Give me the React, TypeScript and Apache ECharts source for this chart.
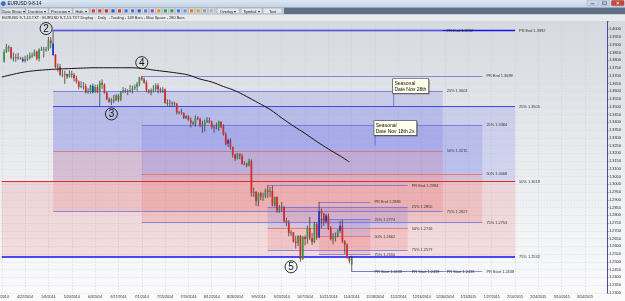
import React, { useEffect, useRef } from 'react';
import * as echarts from 'echarts';

const FONT = "'Liberation Sans', Arial, sans-serif";

// ---------- x axis: trading-day slots starting 8 Apr 2014 ----------
const firstSlotDate = '2014-04-08';
const slotCount = 260;
function buildCategories(): string[] {
  const out: string[] = [];
  const d = new Date(firstSlotDate + 'T00:00:00Z');
  while (out.length < slotCount) {
    const wd = d.getUTCDay();
    if (wd !== 0 && wd !== 6) out.push(`${d.getUTCMonth() + 1}/${d.getUTCDate()}/${d.getUTCFullYear()}`);
    d.setUTCDate(d.getUTCDate() + 1);
  }
  return out;
}
const categories = buildCategories();

// ---------- y axis ----------
const yMin = 1.23;
const yMax = 1.405;
const yStep = 0.005;

// ---------- daily bars [open, high, low, close], first bar at slot 1 ----------
const firstBarSlot = 1;
const ohlc: number[][] = [
  [1.3792, 1.3870, 1.3785, 1.3854], [1.3854, 1.3906, 1.3848, 1.3887], [1.3887, 1.3897, 1.3855, 1.3885],
  [1.3885, 1.3887, 1.3805, 1.3816], [1.3816, 1.3850, 1.3792, 1.3813], [1.3813, 1.3842, 1.3790, 1.3820],
  [1.3820, 1.3847, 1.3803, 1.3813], [1.3813, 1.3822, 1.3805, 1.3810], [1.3810, 1.3823, 1.3787, 1.3795],
  [1.3795, 1.3830, 1.3785, 1.3806], [1.3806, 1.3836, 1.3796, 1.3815], [1.3815, 1.3850, 1.3805, 1.3831],
  [1.3831, 1.3849, 1.3815, 1.3828], [1.3828, 1.3870, 1.3826, 1.3856], [1.3856, 1.3862, 1.3800, 1.3810],
  [1.3810, 1.3878, 1.3793, 1.3868], [1.3868, 1.3888, 1.3860, 1.3869], [1.3869, 1.3887, 1.3818, 1.3872],
  [1.3872, 1.3886, 1.3855, 1.3873], [1.3873, 1.3951, 1.3862, 1.3928], [1.3928, 1.3949, 1.3878, 1.3909],
  [1.3909, 1.3992, 1.3828, 1.3835], [1.3835, 1.3840, 1.3749, 1.3755], [1.3755, 1.3779, 1.3727, 1.3758],
  [1.3758, 1.3775, 1.3700, 1.3705], [1.3705, 1.3737, 1.3691, 1.3707], [1.3707, 1.3733, 1.3648, 1.3711],
  [1.3711, 1.3714, 1.3679, 1.3694], [1.3694, 1.3735, 1.3688, 1.3713], [1.3713, 1.3732, 1.3685, 1.3705],
  [1.3705, 1.3718, 1.3663, 1.3684], [1.3684, 1.3701, 1.3650, 1.3662], [1.3662, 1.3670, 1.3613, 1.3630],
  [1.3630, 1.3665, 1.3620, 1.3635], [1.3635, 1.3660, 1.3609, 1.3633], [1.3633, 1.3650, 1.3586, 1.3593],
  [1.3593, 1.3620, 1.3585, 1.3596], [1.3596, 1.3644, 1.3584, 1.3636], [1.3636, 1.3650, 1.3586, 1.3594],
  [1.3594, 1.3643, 1.3590, 1.3627], [1.3627, 1.3643, 1.3588, 1.3597], [1.3597, 1.3669, 1.3503, 1.3655],
  [1.3655, 1.3677, 1.3616, 1.3642], [1.3642, 1.3651, 1.3585, 1.3590], [1.3590, 1.3598, 1.3543, 1.3549],
  [1.3549, 1.3561, 1.3526, 1.3533], [1.3533, 1.3556, 1.3511, 1.3545], [1.3545, 1.3576, 1.3523, 1.3541],
  [1.3541, 1.3582, 1.3538, 1.3571], [1.3571, 1.3581, 1.3531, 1.3547], [1.3547, 1.3601, 1.3536, 1.3598],
  [1.3598, 1.3627, 1.3588, 1.3607], [1.3607, 1.3620, 1.3589, 1.3600], [1.3600, 1.3614, 1.3575, 1.3604],
  [1.3604, 1.3641, 1.3593, 1.3608], [1.3608, 1.3637, 1.3586, 1.3618], [1.3618, 1.3644, 1.3608, 1.3630],
  [1.3630, 1.3660, 1.3603, 1.3647], [1.3647, 1.3693, 1.3632, 1.3690], [1.3690, 1.3699, 1.3668, 1.3677],
  [1.3677, 1.3690, 1.3648, 1.3656], [1.3656, 1.3670, 1.3594, 1.3606], [1.3606, 1.3614, 1.3585, 1.3593],
  [1.3593, 1.3619, 1.3574, 1.3606], [1.3606, 1.3640, 1.3593, 1.3615], [1.3615, 1.3651, 1.3600, 1.3637],
  [1.3637, 1.3651, 1.3586, 1.3612], [1.3612, 1.3625, 1.3590, 1.3604], [1.3604, 1.3626, 1.3590, 1.3612],
  [1.3612, 1.3618, 1.3519, 1.3525], [1.3525, 1.3548, 1.3505, 1.3522], [1.3522, 1.3546, 1.3500, 1.3526],
  [1.3526, 1.3535, 1.3501, 1.3523], [1.3523, 1.3534, 1.3505, 1.3521], [1.3521, 1.3524, 1.3451, 1.3463],
  [1.3463, 1.3474, 1.3450, 1.3465], [1.3465, 1.3488, 1.3449, 1.3460], [1.3460, 1.3465, 1.3421, 1.3428],
  [1.3428, 1.3447, 1.3421, 1.3440], [1.3440, 1.3445, 1.3412, 1.3413], [1.3413, 1.3430, 1.3367, 1.3397],
  [1.3397, 1.3408, 1.3382, 1.3390], [1.3390, 1.3444, 1.3372, 1.3428], [1.3428, 1.3440, 1.3414, 1.3420],
  [1.3420, 1.3430, 1.3368, 1.3380], [1.3380, 1.3410, 1.3333, 1.3379], [1.3379, 1.3418, 1.3340, 1.3400],
  [1.3400, 1.3433, 1.3396, 1.3414], [1.3414, 1.3431, 1.3392, 1.3400], [1.3400, 1.3410, 1.3358, 1.3368],
  [1.3368, 1.3384, 1.3333, 1.3364], [1.3364, 1.3398, 1.3355, 1.3363], [1.3363, 1.3411, 1.3345, 1.3403],
  [1.3403, 1.3405, 1.3363, 1.3373], [1.3373, 1.3386, 1.3314, 1.3322], [1.3322, 1.3336, 1.3251, 1.3262],
  [1.3262, 1.3294, 1.3242, 1.3284], [1.3284, 1.3297, 1.3225, 1.3241], [1.3241, 1.3243, 1.3173, 1.3192],
  [1.3192, 1.3197, 1.3151, 1.3165], [1.3165, 1.3203, 1.3160, 1.3196], [1.3196, 1.3200, 1.3162, 1.3183],
  [1.3183, 1.3197, 1.3126, 1.3131], [1.3131, 1.3148, 1.3122, 1.3132], [1.3132, 1.3139, 1.3110, 1.3122],
  [1.3122, 1.3165, 1.3115, 1.3150], [1.3150, 1.3161, 1.2921, 1.2944], [1.2944, 1.2979, 1.2918, 1.2951],
  [1.2951, 1.2956, 1.2860, 1.2893], [1.2893, 1.2948, 1.2857, 1.2941], [1.2941, 1.2952, 1.2897, 1.2920],
  [1.2920, 1.2946, 1.2894, 1.2923], [1.2923, 1.2972, 1.2910, 1.2960], [1.2960, 1.2994, 1.2912, 1.2950],
  [1.2950, 1.2983, 1.2918, 1.2957], [1.2957, 1.2990, 1.2858, 1.2862], [1.2862, 1.2921, 1.2856, 1.2918],
  [1.2918, 1.2922, 1.2815, 1.2830], [1.2830, 1.2866, 1.2817, 1.2850], [1.2850, 1.2886, 1.2823, 1.2851],
  [1.2851, 1.2860, 1.2752, 1.2765], [1.2765, 1.2786, 1.2730, 1.2750], [1.2750, 1.2768, 1.2665, 1.2685],
  [1.2685, 1.2705, 1.2666, 1.2690], [1.2690, 1.2692, 1.2624, 1.2630], [1.2630, 1.2667, 1.2585, 1.2622],
  [1.2622, 1.2670, 1.2601, 1.2668], [1.2668, 1.2672, 1.2500, 1.2517], [1.2517, 1.2667, 1.2512, 1.2660],
  [1.2660, 1.2671, 1.2605, 1.2647], [1.2647, 1.2733, 1.2617, 1.2716], [1.2716, 1.2790, 1.2640, 1.2653],
  [1.2653, 1.2685, 1.2609, 1.2628], [1.2628, 1.2758, 1.2620, 1.2744], [1.2744, 1.2757, 1.2642, 1.2656],
  [1.2656, 1.2886, 1.2651, 1.2827], [1.2827, 1.2844, 1.2715, 1.2812], [1.2812, 1.2816, 1.2732, 1.2760],
  [1.2760, 1.2812, 1.2747, 1.2798], [1.2798, 1.2812, 1.2705, 1.2716], [1.2716, 1.2730, 1.2637, 1.2645],
  [1.2645, 1.2685, 1.2613, 1.2655], [1.2655, 1.2689, 1.2631, 1.2669], [1.2669, 1.2710, 1.2658, 1.2701],
  [1.2701, 1.2764, 1.2688, 1.2733], [1.2733, 1.2769, 1.2620, 1.2631], [1.2631, 1.2640, 1.2552, 1.2610],
  [1.2610, 1.2620, 1.2520, 1.2525], [1.2525, 1.2535, 1.2490, 1.2505], [1.2482, 1.2540, 1.2438, 1.2522],
];
// bars drawn in blue by the platform
const blueBarSlots = [9, 22, 39, 97, 136, 139, 145];

// ---------- moving average ----------
const maSlots = [0, 5, 10, 15, 20, 25, 30, 35, 40, 45, 50, 55, 60, 65, 70, 75, 80, 85, 90, 95, 100, 105, 110, 115, 120, 125, 130, 135, 140, 145, 149];
const maValues = [1.3692, 1.3710, 1.3725, 1.3734, 1.3740, 1.3744, 1.3747, 1.3750, 1.3752, 1.3752, 1.3752, 1.3752, 1.3748, 1.3737, 1.3728, 1.3718, 1.3705, 1.3679, 1.3660, 1.3631, 1.3604, 1.3566, 1.3525, 1.3483, 1.3428, 1.3376, 1.3328, 1.3276, 1.3228, 1.3183, 1.3144];

// ---------- price projections ----------
const levelNames = ['PR End', '25%', '50%', '75%', 'PR Start'];
const projLevels = [
  [1.3992, 1.3505, 1.3019, 1.2532, 1.2045],
  [1.3992, 1.3603, 1.3215, 1.2827, 1.2438],
  [1.3699, 1.3384, 1.3068, 1.2753, 1.2438],
  [1.2994, 1.2855, 1.2716, 1.2577, 1.2438],
  [1.2886, 1.2774, 1.2662, 1.2550, 1.2438],
];
const projFromSlot = [22, 22, 60, 114, 136];
const projLowerFromSlot = [0, 22, 60, 114, 136];
const projToSlot = [220, 189, 206, 174, 158];
const prStartFromSlot = 150;

// ---------- annotations ----------
const waveLabels = ['2', '3', '4', '5'];
const waveSlots = [19, 47, 60, 124];
const wavePrices = [1.4005, 1.3454, 1.3785, 1.2468];

const seasonalSlots = [168, 160];
const seasonalTexts = ['Seasonal\nDate Nov 28th', 'Seasonal\nDate Nov 18th 2x'];
const seasonalBoxPrice = [1.3589, 1.3318];
const seasonalStemEnd = [1.3505, 1.3250];

// ---------- chrome ----------
const windowTitle = 'EURUSD 9-8-14';
const infoText = 'EURUSD 9-T-13.TXT : EURUSD 9-T-13.TXT Display :  Daily  - Trading - 149 Bars - Max Space - 280 Bars';
const toolbarButtons: [string, number, number][] = [
  ['Data Show \u25BE', 2, 23], ['Duration \u25BE', 26, 22], ['Precision \u25BE', 49, 23], ['Hide \u25BE', 73, 16],
  ['Overlay \u25BE', 217, 22], ['Symbol \u25BE', 241, 21], ['Text', 263, 19],
];
const toolbarIconColors = ['#d23c3c', '#d23c3c', '#c83232', '#2f4fc8', '#c83c3c', '#4a6ad8', '#4a6ad8', '#2f55b8', '#5a78d0', '#8a4ec8', '#e08a1a', '#3f9a4a', '#3f9a4a', '#3c78d8', '#58a0e0', '#e07a20', '#d4a020', '#9a9a9a', '#b0b0b0'];

const blueFill = 'rgba(78, 88, 232, 0.16)';
const redFill = 'rgba(236, 72, 72, 0.15)';

function lineStyleFor(p: number, k: number) {
  if (p === 0) {
    return [
      { color: '#1414ea', width: 1.4 },
      { color: '#4646ea', width: 1.2 },
      { color: '#e02828', width: 1.2 },
      { color: '#1010f0', width: 1.5 },
      { color: '#7878c8', width: 0.8 },
    ][k];
  }
  if (k === 2) return { color: '#e26a6a', width: 0.8 };
  if (k === 4) return { color: '#7878c8', width: 0.8 };
  return { color: '#7070e2', width: 0.8 };
}

function buildOption() {
  const zones: any[] = [];
  const segs: any[] = [];
  projLevels.forEach((L, p) => {
    zones.push([{ coord: [projFromSlot[p], L[1]], itemStyle: { color: blueFill } }, { coord: [projToSlot[p], L[2]] }]);
    zones.push([{ coord: [projLowerFromSlot[p], L[2]], itemStyle: { color: redFill } }, { coord: [projToSlot[p], L[3]] }]);
    L.forEach((v, k) => {
      if (v < yMin) return;
      const from = k === 4 ? prStartFromSlot : k >= 2 ? projLowerFromSlot[p] : projFromSlot[p];
      segs.push([
        { coord: [from, v], lineStyle: { ...lineStyleFor(p, k), type: 'solid' }, label: { formatter: `${levelNames[k]} ${v.toFixed(4)}` } },
        { coord: [projToSlot[p], v] },
      ]);
    });
  });

  const bars = ohlc.map((r, k) => {
    const slot = firstBarSlot + k;
    return [slot, r[0], r[1], r[2], r[3], blueBarSlots.indexOf(slot) >= 0 ? 1 : 0];
  });

  return {
    animation: false,
    textStyle: { fontFamily: FONT },
    grid: { left: 0.6, right: 17.8, top: 21.55, bottom: 8.2, containLabel: false, outerBoundsMode: 'none' },
    xAxis: {
      type: 'category',
      data: categories,
      boundaryGap: true,
      axisLine: { show: false },
      axisTick: { show: false },
      axisLabel: { interval: 9, fontSize: 3.6, color: '#222', margin: 1.8, fontFamily: FONT },
      splitLine: { show: true, interval: 9, alignWithLabel: true, lineStyle: { color: '#c9ccd3', type: [1.5, 1.5], width: 0.5 } },
    },
    yAxis: {
      type: 'value',
      position: 'right',
      min: yMin,
      max: yMax,
      interval: yStep,
      axisLine: { show: true, onZero: false, lineStyle: { color: '#4a4a9a', width: 1 } },
      axisTick: { show: true, length: 1.5, lineStyle: { color: '#4a4a9a', width: 0.6 } },
      axisLabel: {
        fontSize: 3.8, color: '#222', margin: 2, fontFamily: FONT,
        formatter: (v: number) => (v > 1.4001 ? '' : v.toFixed(4)),
      },
      splitLine: { show: true, lineStyle: { color: '#d3d6dc', type: [1.5, 1.5], width: 0.5 } },
    },
    series: [
      {
        type: 'line', z: 1, data: [], silent: true,
        markArea: { silent: true, data: zones },
      },
      {
        type: 'line', z: 3, data: [], silent: true,
        markLine: {
          silent: true,
          symbol: ['none', 'none'],
          animation: false,
          lineStyle: { type: 'solid' },
          label: { show: true, position: 'end', distance: 4, fontSize: 3.9, color: '#333', fontFamily: FONT },
          emphasis: { disabled: true },
          data: segs,
        },
      },
      {
        type: 'custom', z: 5, silent: true,
        data: bars,
        encode: { x: 0, y: [1, 2, 3, 4] },
        renderItem: (params: any, api: any) => {
          const slot = api.value(0);
          const o = api.value(1), h = api.value(2), l = api.value(3), c = api.value(4);
          const isBlue = api.value(5) === 1;
          const pO = api.coord([slot, o]);
          const pH = api.coord([slot, h]);
          const pL = api.coord([slot, l]);
          const pC = api.coord([slot, c]);
          const x = pO[0];
          const top = Math.min(pO[1], pC[1]);
          const bot = Math.max(pO[1], pC[1]);
          const fill = isBlue ? '#2232c8' : c >= o ? '#2f9a40' : '#d42a2a';
          return {
            type: 'group',
            children: [
              { type: 'line', shape: { x1: x, y1: pH[1], x2: x, y2: pL[1] }, style: { stroke: '#2a2a2a', lineWidth: 0.7 } },
              { type: 'rect', shape: { x: x - 0.85, y: top, width: 1.7, height: Math.max(0.7, bot - top) }, style: { fill } },
            ],
          };
        },
      },
      {
        type: 'line', z: 6, silent: true, symbol: 'none', smooth: 0.4,
        data: maSlots.map((s, k) => [s, maValues[k]]),
        lineStyle: { color: '#111', width: 1 },
      },
      {
        type: 'scatter', z: 7, silent: true, symbol: 'circle', symbolSize: 12,
        data: waveSlots.map((s, k) => ({ value: [s, wavePrices[k]], name: waveLabels[k] })),
        itemStyle: { color: 'rgba(0,0,0,0)', borderColor: '#111', borderWidth: 0.9, opacity: 1 },
        label: { show: true, position: 'inside', formatter: '{b}', fontSize: 10, color: '#111', fontFamily: FONT },
      },
    ],
  };
}

function buildChrome(): any[] {
  const grad = (stops: any[]) => new echarts.graphic.LinearGradient(0, 0, 0, 1, stops);
  const els: any[] = [
    { type: 'rect', z: -100, silent: true, shape: { x: 0, y: 20.5, width: 625, height: 280.5 },
      style: { fill: grad([{ offset: 0, color: '#d6d9df' }, { offset: 0.5, color: '#e9ebee' }, { offset: 1, color: '#fbfbfc' }]) } },
    // title bar
    { type: 'rect', z: 100, silent: true, shape: { x: 0, y: 0, width: 625, height: 7.4 },
      style: { fill: grad([{ offset: 0, color: '#dde7f3' }, { offset: 1, color: '#c2d2e7' }]) } },
    { type: 'circle', z: 101, silent: true, shape: { cx: 3.3, cy: 3.6, r: 2.2 }, style: { fill: '#3d6fc4', stroke: '#24498c', lineWidth: 0.4 } },
    { type: 'text', z: 101, silent: true, x: 7.5, y: 3.8, style: { text: windowTitle, font: `4.6px ${FONT}`, fill: '#111', verticalAlign: 'middle' } },
    { type: 'rect', z: 101, silent: true, shape: { x: 587, y: 0.4, width: 11, height: 5.2, r: 1 }, style: { fill: '#c9d6e8', stroke: '#8ea3c2', lineWidth: 0.4 } },
    { type: 'rect', z: 101, silent: true, shape: { x: 599, y: 0.4, width: 11, height: 5.2, r: 1 }, style: { fill: '#c9d6e8', stroke: '#8ea3c2', lineWidth: 0.4 } },
    { type: 'rect', z: 101, silent: true, shape: { x: 611.5, y: 0.4, width: 12.5, height: 5.2, r: 1 }, style: { fill: '#c9483b', stroke: '#8c2a20', lineWidth: 0.4 } },
    { type: 'line', z: 102, silent: true, shape: { x1: 590.5, y1: 3.8, x2: 594.5, y2: 3.8 }, style: { stroke: '#33445c', lineWidth: 0.7 } },
    { type: 'rect', z: 102, silent: true, shape: { x: 602.5, y: 1.8, width: 4, height: 2.6 }, style: { fill: 'none', stroke: '#33445c', lineWidth: 0.6 } },
    { type: 'text', z: 102, silent: true, x: 617.75, y: 3, style: { text: '\u00D7', font: `bold 5px ${FONT}`, fill: '#fff', align: 'center', verticalAlign: 'middle' } },
    // toolbar
    { type: 'rect', z: 100, silent: true, shape: { x: 0, y: 7.4, width: 625, height: 7 }, style: { fill: '#5f6f86' } },
    { type: 'rect', z: 100, silent: true, shape: { x: 0, y: 7.4, width: 284, height: 7 }, style: { fill: '#c7ced8' } },
    // info row
    { type: 'rect', z: 100, silent: true, shape: { x: 0, y: 14.4, width: 625, height: 6.1 }, style: { fill: '#e8eaed' } },
    { type: 'text', z: 101, silent: true, x: 2, y: 17.5, style: { text: infoText, font: `3.9px ${FONT}`, fill: '#222', verticalAlign: 'middle' } },
  ];
  toolbarButtons.forEach(([label, x, w]) => {
    els.push({ type: 'rect', z: 101, silent: true, shape: { x, y: 8.1, width: w, height: 5.6 }, style: { fill: '#e3e7ed', stroke: '#8390a3', lineWidth: 0.4 } });
    els.push({ type: 'text', z: 102, silent: true, x: x + w / 2, y: 11, style: { text: label, font: `3.9px ${FONT}`, fill: '#1a1a1a', align: 'center', verticalAlign: 'middle' } });
  });
  toolbarIconColors.forEach((c, k) => {
    const x = 90.5 + k * 6.55;
    els.push({ type: 'rect', z: 101, silent: true, shape: { x, y: 8.1, width: 5.6, height: 5.6 }, style: { fill: '#e3e7ed', stroke: '#8390a3', lineWidth: 0.3 } });
    els.push({ type: 'rect', z: 102, silent: true, shape: { x: x + 1.2, y: 9.3, width: 3.2, height: 3.2 }, style: { fill: c } });
  });
  return els;
}

export default function App() {
  const ref = useRef<HTMLDivElement>(null);
  useEffect(() => {
    if (!ref.current) return;
    const chart = echarts.init(ref.current, null, { renderer: 'svg', width: 625, height: 301 });
    chart.setOption(buildOption() as any);

    const px = (s: number, v: number) => chart.convertToPixel({ xAxisIndex: 0, yAxisIndex: 0 }, [s, v]) as number[];
    const notes: any[] = [];
    seasonalSlots.forEach((s, k) => {
      const top = px(s, seasonalBoxPrice[k]);
      const bot = px(s, seasonalStemEnd[k]);
      notes.push({ type: 'line', z: 8, silent: true, shape: { x1: top[0], y1: top[1], x2: bot[0], y2: bot[1] }, style: { stroke: '#5c5ce0', lineWidth: 0.8 } });
      notes.push({
        type: 'text', z: 9, silent: true, x: top[0] - 0.8, y: top[1],
        style: {
          text: seasonalTexts[k], font: `5px ${FONT}`, fill: '#111', align: 'left', verticalAlign: 'bottom', lineHeight: 6,
          backgroundColor: '#ffffec', borderColor: '#3a3a3a', borderWidth: 0.6, padding: [1, 2, 1, 1.5],
          shadowColor: 'rgba(0,0,0,0.35)', shadowOffsetX: 0.8, shadowOffsetY: 0.8, shadowBlur: 0,
        },
      });
    });
    chart.setOption({ graphic: { elements: [...buildChrome(), ...notes] } } as any);
    return () => chart.dispose();
  }, []);
  return <div ref={ref} style={{ position: 'fixed', left: 0, top: 0, width: 625, height: 301 }} />;
}
